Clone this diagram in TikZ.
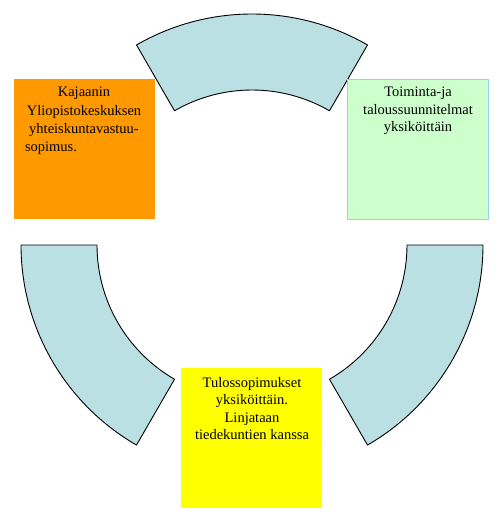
\documentclass[tikz,border=0pt]{standalone}
\usepackage{fontspec}
\setmainfont{Liberation Serif}
\definecolor{ringfill}{RGB}{187,224,227}
\definecolor{orangefill}{RGB}{255,153,0}
\definecolor{greenfill}{RGB}{204,255,204}
\definecolor{greenline}{RGB}{153,204,255}
\definecolor{yellowfill}{RGB}{255,255,0}
\tikzset{
  ring/.style={fill=ringfill,draw=black,line width=0.9pt,line join=round},
  boxshape/.style={rectangle,inner sep=0pt,minimum width=141pt,minimum height=140pt},
  boxtext/.style={inner sep=0pt,align=center,anchor=north,font=\fontsize{14.5pt}{18.3pt}\selectfont}
}
\begin{document}
\begin{tikzpicture}[x=1pt,y=1pt]
\useasboundingbox (0,0) rectangle (500,-523);
\coordinate (c) at (252,-245);
% arcs
\draw[ring] ([shift={(60:231pt)}]c) arc[start angle=60,end angle=120,radius=231pt]
  -- ([shift={(120:155pt)}]c) arc[start angle=120,end angle=60,radius=155pt] -- cycle;
\draw[ring] ([shift={(0:231pt)}]c) arc[start angle=0,end angle=-60,radius=231pt]
  -- ([shift={(-60:155pt)}]c) arc[start angle=-60,end angle=0,radius=155pt] -- cycle;
\draw[ring] ([shift={(180:231pt)}]c) arc[start angle=180,end angle=240,radius=231pt]
  -- ([shift={(240:155pt)}]c) arc[start angle=240,end angle=180,radius=155pt] -- cycle;
% boxes
\node[boxshape,fill=orangefill] (kbox) at (84.5,-149) {};
\node[boxshape,fill=greenfill,draw=greenline,line width=0.8pt] (gbox) at (418,-149) {};
\node[boxshape,fill=yellowfill] (ybox) at (251.5,-438) {};
% texts
\node[boxtext] (ktext) at (84,-87) {Kajaanin\\Yliopistokeskuksen\\yhteiskuntavastuu-\\\makebox[118pt][l]{sopimus.}};
\node[boxtext,font=\fontsize{14.5pt}{17.5pt}\selectfont] (gtext) at (418,-87) {Toiminta-ja\\taloussuunnitelmat\\yksiköittäin};
\node[boxtext,font=\fontsize{14.5pt}{17.4pt}\selectfont] (ytext) at (252,-377) {Tulossopimukset\\yksiköittäin.\\Linjataan\\tiedekuntien kanssa};
\end{tikzpicture}
\end{document}
